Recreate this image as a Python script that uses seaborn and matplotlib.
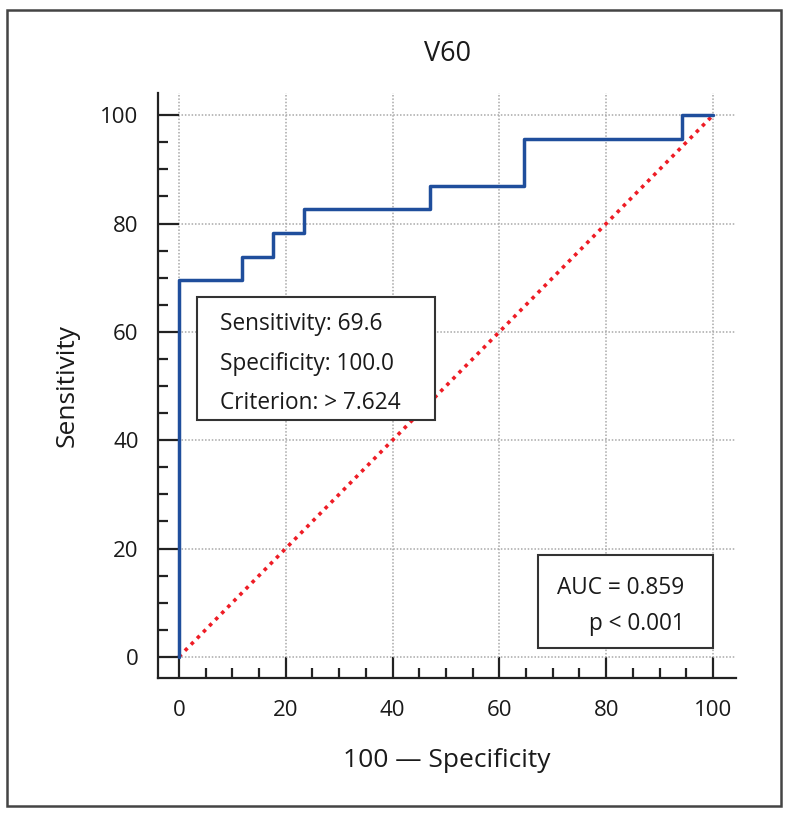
import matplotlib
matplotlib.use("Agg")
import matplotlib.pyplot as plt
from matplotlib.patches import Rectangle
from matplotlib.ticker import MultipleLocator
import seaborn as sns
import pandas as pd

# ROC step vertices (100 - Specificity, Sensitivity)
fpr = [0, 0, 11.8, 17.6, 23.5, 47.1, 64.7, 94.1, 100]
tpr = [0, 69.6, 73.9, 78.3, 82.6, 87.0, 95.7, 100, 100]
diag_x = [0, 100]
diag_y = [0, 100]

title = "V60"
xlabel = "100 \u2014 Specificity"
ylabel = "Sensitivity"
info_lines = ["Sensitivity: 69.6", "Specificity: 100.0", "Criterion: > 7.624"]
auc_lines = ["AUC = 0.859", "p < 0.001"]
ticks = [0, 20, 40, 60, 80, 100]

sns.set_theme(style="white")
plt.rcParams['font.family'] = ['Open Sans', 'DejaVu Sans']

fig = plt.figure(figsize=(7.92, 8.16), dpi=100)
ax = fig.add_axes([158/792, 1-678/816, (736-158)/792, (678-93)/816])

roc = pd.DataFrame({"fpr": fpr, "tpr": tpr})
sns.lineplot(data=roc, x="fpr", y="tpr", sort=False, estimator=None,
             drawstyle="steps-post", color="#1f4e9c", linewidth=2.5, ax=ax, zorder=4)
sns.lineplot(x=diag_x, y=diag_y, color="#ee1c25", linewidth=2.6,
             linestyle=(0, (1, 1.4)), ax=ax, zorder=3)

ax.set_xlim(-3.9, 104.3)
ax.set_ylim(-3.9, 104.1)
ax.set_xticks(ticks)
ax.set_yticks(ticks)
ax.xaxis.set_minor_locator(MultipleLocator(5))
ax.yaxis.set_minor_locator(MultipleLocator(5))
ax.tick_params(which="major", direction="in", length=15, width=1.6, color="#222222",
               labelsize=16, labelcolor="#1a1a1a")
ax.tick_params(axis="y", which="major", pad=14)
ax.tick_params(axis="x", which="major", pad=16)
ax.tick_params(which="minor", direction="in", length=7.5, width=1.6, color="#222222")
ax.tick_params(bottom=True, left=True, which="both")

ax.grid(True, which="major", linestyle=(0, (1, 1.2)), color="#a8a8a8", linewidth=1.1)
for s in ["top", "right"]:
    ax.spines[s].set_visible(False)
for s in ["left", "bottom"]:
    ax.spines[s].set_color("#222222")
    ax.spines[s].set_linewidth(1.6)

ax.set_title(title, fontsize=19.5, pad=23, color="#1a1a1a")
ax.set_xlabel(xlabel, fontsize=19, labelpad=19, color="#1a1a1a")
ax.set_ylabel(ylabel, fontsize=19, labelpad=15, color="#1a1a1a")

# info box
ax.add_patch(Rectangle((3.4, 43.7), 44.5, 22.7, facecolor="white", edgecolor="#333333",
                       linewidth=1.5, zorder=5))
for i, line in enumerate(info_lines):
    ax.text(7.7, 60.3 - i * 7.3, line, fontsize=16.3, color="#1a1a1a", zorder=6,
            ha="left", va="baseline")

# AUC box
ax.add_patch(Rectangle((67.2, 1.7), 32.8, 17.1, facecolor="white", edgecolor="#333333",
                       linewidth=1.5, zorder=5))
for i, line in enumerate(auc_lines):
    ax.text(94.7, 11.6 - i * 6.6, line, fontsize=16.3, color="#1a1a1a", zorder=6,
            ha="right", va="baseline")

# outer frame
fig.add_artist(Rectangle((7/792, 10/816), 774/792, 796/816, transform=fig.transFigure,
                         fill=False, edgecolor="#444444", linewidth=1.8))

fig.savefig("out.png", dpi=100)
